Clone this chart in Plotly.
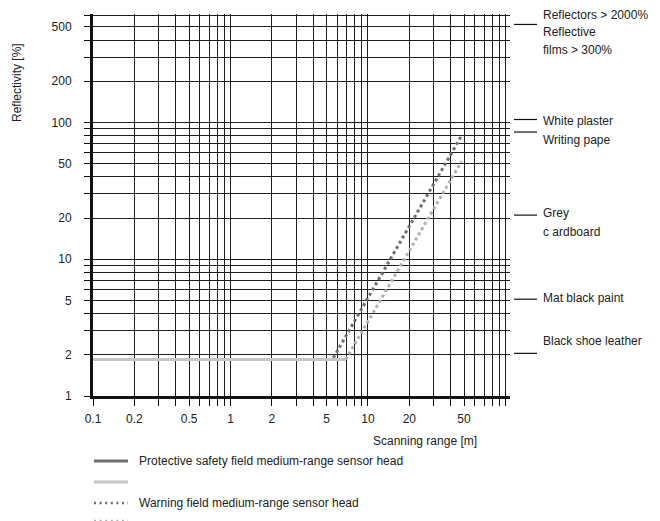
import math
import plotly.graph_objects as go

# Grid / tick values (log-log chart)
x_grid = [0.1, 0.2, 0.3, 0.4, 0.5, 0.6, 0.7, 0.8, 0.9,
          1, 2, 3, 4, 5, 6, 7, 8, 9,
          10, 20, 30, 40, 50, 60, 70, 80, 90, 100]
x_labels = [0.1, 0.2, 0.5, 1, 2, 5, 10, 20, 50]
y_grid = [1, 2, 3, 4, 5, 6, 7, 8, 9,
          10, 20, 30, 40, 50, 60, 70, 80, 90,
          100, 200, 300, 400, 500, 600]
y_labels = [1, 2, 5, 10, 20, 50, 100, 200, 500]

# Curves: reflectivity [%] vs scanning range [m]
prot_mid_x = [0.1, 5.6]
prot_mid_y = [1.85, 1.85]
prot_long_x = [0.1, 6.9]
prot_long_y = [1.85, 1.85]
warn_mid_x = [5.6, 48]
warn_mid_y = [1.9, 80]
warn_long_x = [6.9, 48]
warn_long_y = [1.85, 52]

# Materials marked at the right edge
material_refl = [520, 105, 85, 21, 5.1, 2.05]
material_text = [["Reflectors > 2000%", "Reflective", "films > 300%"],
                 ["White plaster"], ["Writing pape"],
                 ["Grey", "c ardboard"], ["Mat black paint"],
                 ["Black shoe leather"]]
material_text_px = [[15, 32, 50], [121], [140], [213, 232], [298], [341]]

legend_names = ["Protective safety field medium-range sensor head", "",
                "Warning field medium-range sensor head", ""]

FONT = "Liberation Sans, Arial, Helvetica, sans-serif"
TXT = "#222222"
DARK = "#6e6e6e"
LIGHT = "#c6c6c6"
LIGHT_DOT = "#b0b0b0"
DOTS = "3px,3px"

# page offset of the plot div (browser body margin)
OFF = 8
W, H = 660, 521
# plot area in page pixels
L, R, T, B = 93, 510, 14, 396


def px_x(px):
    return (px - L) / (R - L)


def px_y(py):
    return (B - py) / (B - T)


fig = go.Figure()
fig.add_trace(go.Scatter(x=prot_mid_x, y=prot_mid_y, mode="lines",
                         line=dict(color=DARK, width=3), showlegend=False))
fig.add_trace(go.Scatter(x=prot_long_x, y=prot_long_y, mode="lines",
                         line=dict(color=LIGHT, width=3), showlegend=False))
fig.add_trace(go.Scatter(x=warn_mid_x, y=warn_mid_y, mode="lines",
                         line=dict(color=DARK, width=3, dash=DOTS),
                         showlegend=False))
fig.add_trace(go.Scatter(x=warn_long_x, y=warn_long_y, mode="lines",
                         line=dict(color=LIGHT_DOT, width=3, dash=DOTS),
                         showlegend=False))


def fmt(v):
    return ("%g" % v)


axis_common = dict(
    type="log", showgrid=True, gridcolor="#1e1e1e", gridwidth=1.4,
    ticks="outside", tickcolor="#111111", tickwidth=1.4,
    showline=True, linecolor="#111111", linewidth=3, mirror=False,
    tickfont=dict(family=FONT, size=12, color=TXT),
)

fig.update_xaxes(
    range=[-1, math.log10(108)],
    tickvals=x_grid,
    ticktext=[fmt(v) if v in x_labels else "" for v in x_grid],
    ticklen=7, ticklabelstandoff=3, tickangle=0,
    **axis_common,
)
fig.update_yaxes(
    range=[0, math.log10(620)],
    tickvals=y_grid,
    ticktext=[fmt(v) if v in y_labels else "" for v in y_grid],
    ticklen=6, ticklabelstandoff=10,
    **axis_common,
)

shapes = []
annotations = []

# leader lines + material labels
for val, lines, pys in zip(material_refl, material_text, material_text_px):
    shapes.append(dict(type="line", xref="paper", yref="y",
                       x0=px_x(514), x1=px_x(537), y0=val, y1=val,
                       line=dict(color="#111111", width=1.2)))
    for txt, py in zip(lines, pys):
        annotations.append(dict(text=txt, xref="paper", yref="paper",
                                x=px_x(541), y=px_y(py), xanchor="left",
                                yanchor="middle", showarrow=False,
                                font=dict(family=FONT, size=12, color=TXT)))

# axis titles
annotations.append(dict(text="Reflectivity [%]", xref="paper", yref="paper",
                        x=px_x(17), y=px_y(83), textangle=-90,
                        xanchor="center", yanchor="middle", showarrow=False,
                        font=dict(family=FONT, size=12, color=TXT)))
annotations.append(dict(text="Scanning range [m]", xref="paper", yref="paper",
                        x=px_x(425), y=px_y(441), xanchor="center",
                        yanchor="middle", showarrow=False,
                        font=dict(family=FONT, size=12, color=TXT)))

# hand-drawn legend below the chart
legend_styles = [dict(color=DARK, width=3),
                 dict(color=LIGHT, width=3),
                 dict(color=DARK, width=2.5, dash="2px,3.6px"),
                 dict(color=LIGHT_DOT, width=2.5, dash="2px,3.6px")]
legend_rows = [461, 482, 503, 521]
for name, style, py in zip(legend_names, legend_styles, legend_rows):
    shapes.append(dict(type="line", xref="paper", yref="paper",
                       x0=px_x(94), x1=px_x(128), y0=px_y(py), y1=px_y(py),
                       line=style))
    if name:
        annotations.append(dict(text=name, xref="paper", yref="paper",
                                x=px_x(137), y=px_y(py), xanchor="left",
                                yanchor="middle", showarrow=False,
                                font=dict(family=FONT, size=12, color=TXT)))

fig.update_layout(
    width=W, height=H,
    margin=dict(l=L - OFF, r=W - R + OFF, t=T - OFF, b=H - B + OFF,
                autoexpand=False),
    paper_bgcolor="white", plot_bgcolor="white",
    showlegend=False,
    shapes=shapes, annotations=annotations,
    font=dict(family=FONT, size=12, color=TXT),
)

fig.write_html("out.html")
